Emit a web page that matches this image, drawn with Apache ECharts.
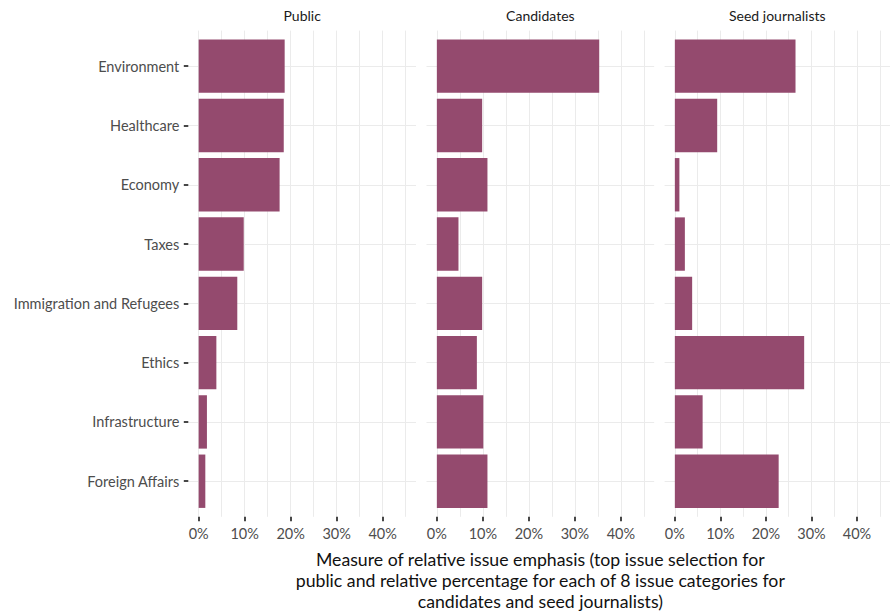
<!DOCTYPE html>
<html><head><meta charset="utf-8">
<script src="https://cdn.jsdelivr.net/npm/echarts@6/dist/echarts.min.js"></script>
<style>html,body{margin:0;padding:0;background:#fff}#c{width:890px;height:613px}</style>
</head><body><div id="c"></div>
<script>
const categories = ['Environment','Healthcare','Economy','Taxes','Immigration and Refugees','Ethics','Infrastructure','Foreign Affairs'];
const facets = ['Public','Candidates','Seed journalists'];
const publicValues = [18.7,18.5,17.6,9.8,8.4,3.85,1.8,1.45];
const candidateValues = [35.3,9.85,11.0,4.7,9.85,8.7,10.1,11.0];
const journalistValues = [26.5,9.3,1.0,2.2,3.8,28.4,6.1,22.8];
const xTickValues = [0,10,20,30,40];
const xMinorValues = [5,15,25,35,45];
const axisTitleLines = [
  'Measure of relative issue emphasis (top issue selection for',
  'public and relative percentage for each of 8 issue categories for',
  'candidates and seed journalists)'
];

const seriesValues = [publicValues, candidateValues, journalistValues];
const FONT = 'Lato';
const BAR = '#944a6e';
const GRID = '#ebebeb';
const TICK = '#333';
const panelLefts = [188.3, 426.5, 664.6];
const panelWidth = 227.7;
const panelTop = 30.6;
const panelHeight = 486.2;
const unit = panelHeight / (categories.length + 0.2);
const barTop = panelTop + 0.1 * unit;
const barHeight = categories.length * unit;
const xMin = -2.25, xMax = 47.25;
const yPositions = categories.map((c, i) => i + 1);
const hiddenLine = {show: true, onZero: false, lineStyle: {color: 'rgba(0,0,0,0)', width: 0}};
const titleTop = 548.5, titleStep = 21.3, titleSize = 17.7;

const grid = [], xAxis = [], yAxis = [], series = [];
facets.forEach((f, i) => {
  grid[i] = {left: panelLefts[i], top: panelTop, width: panelWidth, height: panelHeight, containLabel: false};
  grid[3 + i] = {left: panelLefts[i], top: barTop, width: panelWidth, height: barHeight, containLabel: false};
});
facets.forEach((f, i) => {
  xAxis[i] = {
    type: 'value', gridIndex: i, min: xMin, max: xMax, position: 'bottom',
    axisLine: hiddenLine,
    axisTick: {show: true, inside: false, customValues: xTickValues, length: 4.5, lineStyle: {color: TICK, width: 1.8}},
    axisLabel: {show: true, customValues: xTickValues, margin: 9, formatter: '{value}%', color: '#4d4d4d', fontFamily: FONT, fontSize: 14.5},
    splitLine: {show: true, lineStyle: {color: GRID, width: 1}}
  };
});
facets.forEach((f, i) => {
  xAxis[3 + i] = {
    type: 'value', gridIndex: i, min: xMin, max: xMax, position: 'top',
    axisLine: {show: false, onZero: false},
    axisTick: {show: false, customValues: xMinorValues},
    axisLabel: {show: false},
    splitLine: {show: true, lineStyle: {color: GRID, width: 1}},
    name: f, nameLocation: 'middle', nameGap: 8,
    nameTextStyle: {fontFamily: FONT, fontSize: 14, color: '#1a1a1a'}
  };
});
facets.forEach((f, i) => {
  xAxis[6 + i] = {type: 'value', gridIndex: 3 + i, min: xMin, max: xMax, show: false};
});
facets.forEach((f, i) => {
  yAxis[i] = {
    type: 'value', gridIndex: i, inverse: true, min: 0.4, max: categories.length + 0.6,
    axisLine: hiddenLine,
    axisTick: {show: i === 0, inside: false, customValues: yPositions, length: 4.5, lineStyle: {color: TICK, width: 1.8}},
    axisLabel: {show: i === 0, customValues: yPositions, margin: 9, color: '#4d4d4d', fontFamily: FONT, fontSize: 14.5,
      formatter: v => categories[Math.round(v) - 1] || ''},
    splitLine: {show: true, lineStyle: {color: GRID, width: 1}}
  };
  yAxis[3 + i] = {type: 'category', gridIndex: 3 + i, inverse: true, data: categories, show: false};
  series.push({
    type: 'bar', name: f, xAxisIndex: 6 + i, yAxisIndex: 3 + i,
    data: seriesValues[i], barCategoryGap: '10%', silent: true,
    itemStyle: {color: BAR}
  });
});

const centerX = panelLefts[0] + (panelLefts[2] + panelWidth - panelLefts[0]) / 2;
const chart = echarts.init(document.getElementById('c'), null, {renderer: 'svg'});
chart.setOption({
  animation: false,
  backgroundColor: '#fff',
  grid, xAxis, yAxis, series,
  graphic: axisTitleLines.map((t, k) => ({
    type: 'text', x: centerX, y: titleTop + k * titleStep, silent: true,
    style: {text: t, textAlign: 'center', textVerticalAlign: 'top', fontFamily: FONT, fontSize: titleSize, lineHeight: titleStep, fill: '#111'}
  }))
});
</script></body></html>
